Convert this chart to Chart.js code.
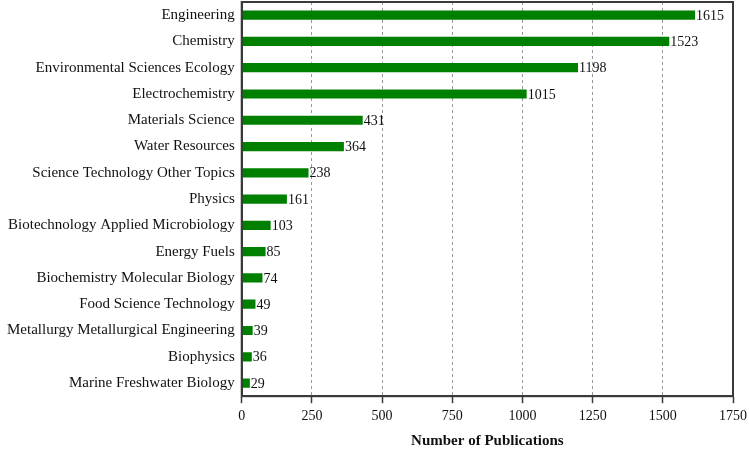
<!DOCTYPE html>
<html>
<head>
<meta charset="utf-8">
<script src="https://cdn.jsdelivr.net/npm/chart.js@4.4.1/dist/chart.umd.min.js"></script>
<style>
  html, body { margin: 0; padding: 0; background: #fff; overflow: hidden; }
  /* o eixo de categorias reserva meia linha no topo; puxamos o canvas para cima */
  #wrap { width: 752px; height: 464px; margin-top: -14px; }
</style>
</head>
<body>
<div id="wrap"><canvas id="pubChart"></canvas></div>
<script>
// Dados do gráfico
const categories = [
    'Engineering', 'Chemistry', 'Environmental Sciences Ecology', 'Electrochemistry',
    'Materials Science', 'Water Resources', 'Science Technology Other Topics', 'Physics',
    'Biotechnology Applied Microbiology', 'Energy Fuels', 'Biochemistry Molecular Biology',
    'Food Science Technology', 'Metallurgy Metallurgical Engineering', 'Biophysics',
    'Marine Freshwater Biology'
];
const publications = [1615, 1523, 1198, 1015, 431, 364, 238, 161, 103, 85, 74, 49, 39, 36, 29];
const xTicks = [0, 250, 500, 750, 1000, 1250, 1500, 1750];

const serif = '"Liberation Serif", "Times New Roman", serif';
const axisColor = '#3a3a3a';

// Moldura em volta da área do gráfico
const framePlugin = {
    id: 'frame',
    afterDraw(chart) {
        const { ctx, chartArea: a } = chart;
        ctx.save();
        ctx.strokeStyle = axisColor;
        ctx.lineWidth = 2;
        ctx.strokeRect(a.left, a.top, a.right - a.left, a.bottom - a.top);
        ctx.restore();
    }
};

// Rótulos de valor na ponta das barras
const valueLabels = {
    id: 'valueLabels',
    afterDatasetsDraw(chart) {
        const { ctx } = chart;
        const meta = chart.getDatasetMeta(0);
        ctx.save();
        ctx.font = '14px ' + serif;
        ctx.fillStyle = '#111';
        ctx.textBaseline = 'middle';
        ctx.textAlign = 'left';
        meta.data.forEach((bar, i) => {
            ctx.fillText(String(publications[i]), bar.x + 1, bar.y + 1);
        });
        ctx.restore();
    }
};

new Chart(document.getElementById('pubChart'), {
    type: 'bar',
    data: {
        labels: categories,
        datasets: [{
            data: publications,
            backgroundColor: '#008000',
            barPercentage: 0.7,
            categoryPercentage: 0.5
        }]
    },
    options: {
        indexAxis: 'y',
        responsive: true,
        maintainAspectRatio: false,
        animation: false,
        layout: { padding: 0 },
        plugins: {
            legend: { display: false },
            tooltip: { enabled: false }
        },
        scales: {
            x: {
                min: 0,
                max: 1750,
                afterBuildTicks(scale) {
                    scale.ticks = xTicks.map(v => ({ value: v }));
                },
                grid: {
                    color: '#999',
                    lineWidth: 1,
                    drawTicks: true,
                    tickLength: 7,
                    tickColor: axisColor,
                    tickWidth: 1.5
                },
                border: { display: true, color: axisColor, width: 2, dash: [3, 3] },
                ticks: {
                    color: '#111',
                    padding: 5,
                    font: { family: serif, size: 14 },
                    callback: v => String(v)
                },
                title: {
                    display: true,
                    text: 'Number of Publications',
                    color: '#111',
                    padding: { top: 2, bottom: 0 },
                    font: { family: serif, size: 15, weight: 'bold' }
                }
            },
            y: {
                grid: { display: false, drawTicks: false },
                border: { display: true, color: axisColor, width: 2 },
                ticks: {
                    color: '#111',
                    padding: 7,
                    autoSkip: false,
                    font: { family: serif, size: 15 }
                }
            }
        }
    },
    plugins: [framePlugin, valueLabels]
});
</script>
</body>
</html>
